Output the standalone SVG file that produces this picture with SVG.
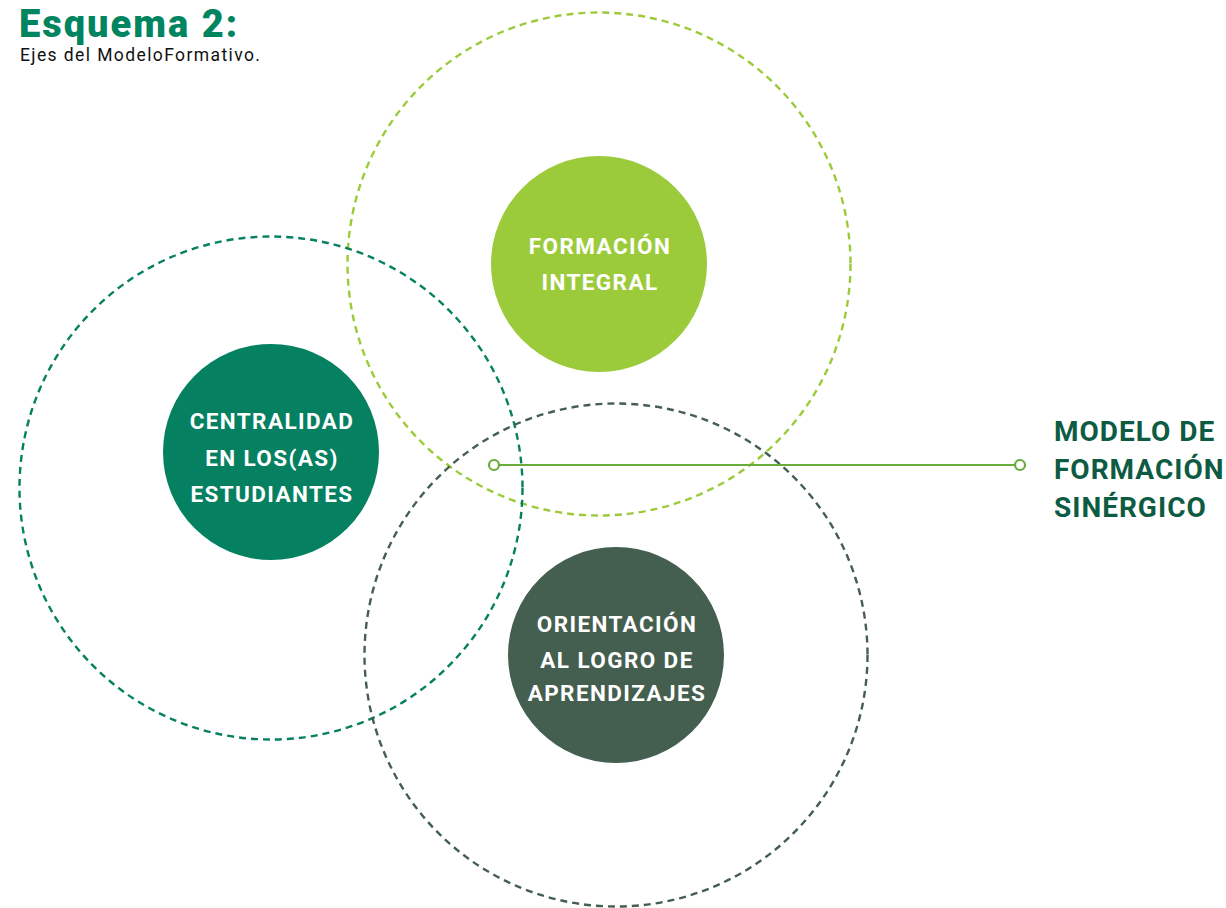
<svg xmlns="http://www.w3.org/2000/svg" width="1226" height="908" viewBox="0 0 1226 908">
<style>
.ring{fill:none;stroke-width:2.4;stroke-dasharray:7 5}
.lbl{font-family:Roboto,"Liberation Sans",sans-serif;font-weight:bold;font-size:22.5px;fill:#fff;text-anchor:middle;letter-spacing:1.4px}
.side{font-family:Roboto,"Liberation Sans",sans-serif;font-weight:bold;font-size:28px;fill:#0d5b42;letter-spacing:1px}
</style>
<rect width="1226" height="908" fill="#fff"/>
<g id="title">
<text x="19" y="37" font-family="Roboto,'Liberation Sans',sans-serif" font-weight="900" font-size="38" letter-spacing="2" fill="#008560">Esquema 2:</text>
<text x="20" y="61" font-family="Roboto,'Liberation Sans',sans-serif" font-size="17.5" letter-spacing="1.4" fill="#111">Ejes del ModeloFormativo.</text>
</g>
<g id="ring-formacion"><circle class="ring" cx="599" cy="264" r="251.5" stroke="#9bcb3b"/></g>
<g id="ring-centralidad"><circle class="ring" cx="271" cy="488" r="251.5" stroke="#058060"/></g>
<g id="ring-orientacion"><circle class="ring" cx="616" cy="655" r="251.5" stroke="#445e4f"/></g>
<g id="node-formacion">
<circle cx="599" cy="264" r="108" fill="#9bcb3b"/>
<text class="lbl" x="600" y="254">FORMACIÓN</text>
<text class="lbl" x="600" y="290">INTEGRAL</text>
</g>
<g id="node-centralidad">
<circle cx="271" cy="452" r="108" fill="#058060"/>
<text class="lbl" x="272" y="429">CENTRALIDAD</text>
<text class="lbl" x="272" y="466">EN LOS(AS)</text>
<text class="lbl" x="272" y="502">ESTUDIANTES</text>
</g>
<g id="node-orientacion">
<circle cx="616" cy="655" r="108" fill="#445e4f"/>
<text class="lbl" x="617" y="632">ORIENTACIÓN</text>
<text class="lbl" x="617" y="668">AL LOGRO DE</text>
<text class="lbl" x="617" y="701">APRENDIZAJES</text>
</g>
<g id="connectors">
<line x1="499" y1="465" x2="1015" y2="465" stroke="#6aab3a" stroke-width="2.2"/>
<circle cx="494" cy="465" r="5" fill="#fff" stroke="#6aab3a" stroke-width="2.2"/>
<circle cx="1020" cy="465" r="5" fill="#fff" stroke="#6aab3a" stroke-width="2.2"/>
</g>
<g id="node-modelo">
<text class="side" x="1054" y="441">MODELO DE</text>
<text class="side" x="1054" y="479">FORMACIÓN</text>
<text class="side" x="1054" y="517">SINÉRGICO</text>
</g>
</svg>
